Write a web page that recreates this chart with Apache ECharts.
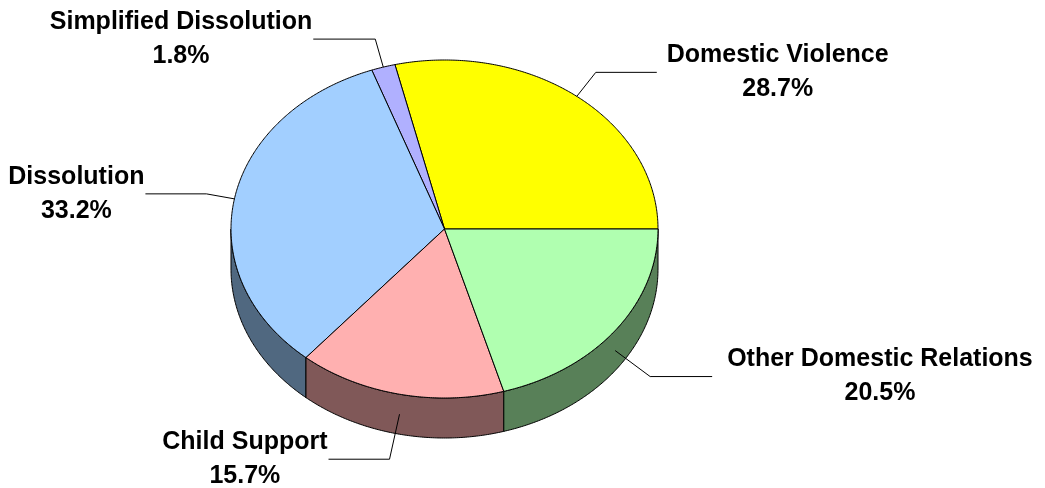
<!DOCTYPE html>
<html><head><meta charset="utf-8">
<script src="https://cdn.jsdelivr.net/npm/echarts@6/dist/echarts.min.js"></script>
<style>html,body{margin:0;padding:0;background:#fff}#c{width:1045px;height:488px}</style>
</head><body><div id="c"></div>
<script>
// ---- data ----
const categories = ['Domestic Violence', 'Simplified Dissolution', 'Dissolution', 'Child Support', 'Other Domestic Relations'];
const values = [28.7, 1.8, 33.2, 15.7, 20.5];
const percentLabels = ['28.7%', '1.8%', '33.2%', '15.7%', '20.5%'];

// ---- styles / layout ----
const topColors = ['#FFFF00', '#B0B0FF', '#A2CFFF', '#FFB0B0', '#B0FFB0'];
const sideColors = ['#808000', '#585880', '#506880', '#805858', '#588058'];
const leaderElbow = [[19, -24], [-8, -28], [-28, -5], [-10, 45], [35, 26]];
const leaderRun = [61, -62, -61, -61, 62];
const labelGap = [10, 1, 1, 1, 15];
const geo = { cx: 444.5, cy: 229, rx: 213.5, ry: 169, depth: 40 };
const FONT_SIZE = 25, FONT_FAMILY = '"Liberation Sans", Arial, sans-serif', LINE_H = 34;

const total = values.reduce((a, b) => a + b, 0);
const cum = []; { let s = 0; values.forEach(v => { cum.push(s); s += v; }); }

const mctx = document.createElement('canvas').getContext('2d');
mctx.font = 'bold ' + FONT_SIZE + 'px ' + FONT_FAMILY;

function pt(t, dy) { return [geo.cx + geo.rx * Math.cos(t), geo.cy - geo.ry * Math.sin(t) + (dy || 0)]; }
function arc(a, b, dy) {
  const n = Math.max(2, Math.ceil(Math.abs(b - a) / (Math.PI / 360)));
  const out = [];
  for (let k = 0; k <= n; k++) out.push(pt(a + (b - a) * k / n, dy));
  return out;
}

function renderItem(params, api) {
  const i = params.dataIndex;
  const v = api.value(0);
  const a0 = cum[i] / total * Math.PI * 2;
  const a1 = (cum[i] + v) / total * Math.PI * 2;
  const children = [];
  // side face (front half)
  const s = Math.max(a0, Math.PI), e = Math.min(a1, Math.PI * 2);
  if (e > s) {
    const pts = arc(s, e, 0).concat(arc(e, s, geo.depth));
    children.push({ type: 'polygon', z2: 1, shape: { points: pts },
      style: { fill: sideColors[i], stroke: '#000', lineWidth: 1 } });
  }
  // top face
  const topPts = [[geo.cx, geo.cy]].concat(arc(a0, a1, 0));
  children.push({ type: 'polygon', z2: 2, shape: { points: topPts },
    style: { fill: topColors[i], stroke: '#000', lineWidth: 1, lineJoin: 'round' } });
  // leader line
  const mid = (a0 + a1) / 2;
  const anchor = pt(mid, Math.sin(mid) < 0 ? geo.depth / 2 : 0);
  const elbow = [anchor[0] + leaderElbow[i][0], anchor[1] + leaderElbow[i][1]];
  const end = [elbow[0] + leaderRun[i], elbow[1]];
  children.push({ type: 'polyline', z2: 3, shape: { points: [anchor, elbow, end] },
    style: { stroke: '#000', lineWidth: 1, fill: null } });
  // label
  const w = Math.max(mctx.measureText(categories[i]).width, mctx.measureText(percentLabels[i]).width);
  const sign = leaderRun[i] >= 0 ? 1 : -1;
  children.push({ type: 'text', z2: 4,
    style: { text: categories[i] + '\n' + percentLabels[i],
      x: end[0] + sign * (labelGap[i] + w / 2), y: end[1],
      align: 'center', verticalAlign: 'middle', lineHeight: LINE_H,
      fontSize: FONT_SIZE, fontWeight: 'bold', fontFamily: FONT_FAMILY, fill: '#000' } });
  return { type: 'group', children };
}

const chart = echarts.init(document.getElementById('c'), null, { renderer: 'canvas' });
chart.setOption({
  backgroundColor: '#fff',
  animation: false,
  series: [{
    type: 'custom',
    coordinateSystem: 'none',
    renderItem,
    data: values.map((v, i) => ({ name: categories[i], value: [v] }))
  }]
});
</script></body></html>
